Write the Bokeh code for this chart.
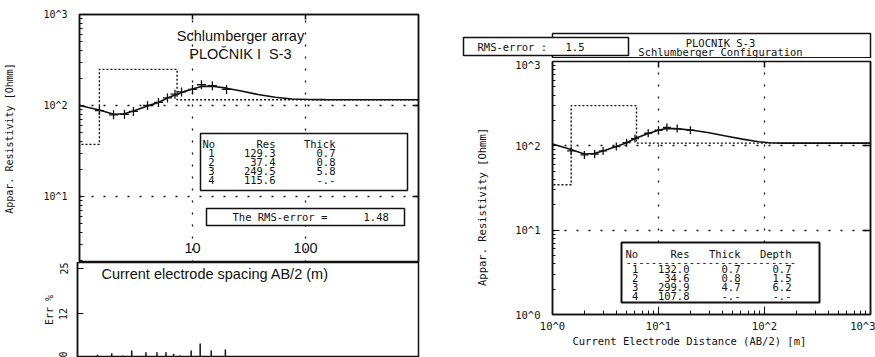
import math
from bokeh.plotting import figure
from bokeh.layouts import row, column
from bokeh.models import (Range1d, LogAxis, FixedTicker, CustomJSTickFormatter,
                          Label, BoxAnnotation)
from bokeh.embed import file_html
from bokeh.resources import INLINE

# ---------------- sounding data ----------------
# Interpretation A (left chart): measured points, model curve, layer table
obs_ab2_a = [1.5, 2, 2.5, 3, 4, 5, 6, 7, 8, 10, 12, 15, 20]
obs_rho_a = [88, 79, 80, 86, 100, 108, 121, 133, 141, 150, 169, 165, 150]
fit_ab2_a = [1, 1.5, 2, 2.5, 3, 4, 5, 6, 7, 8.4, 10, 12, 15, 20, 27, 38, 54, 76, 107, 150, 220, 1000]
fit_rho_a = [100, 89, 80, 81, 87, 99, 108, 121, 130, 142, 152, 162, 163, 155, 144, 132,
             123, 118, 116.5, 116, 115.6, 115.6]
layer_res_a = [129.3, 37.4, 249.5, 115.6]
layer_thick_a = [0.7, 0.8, 5.8]
rms_a = "1.48"
err_pct_a = [0.4, 0.8, 0.2, 1.6, 1.1, 1.1, 1.1, 0.7, 0.2, 1.6, 3.6, 1.6, 1.9]

# Interpretation B (right chart)
obs_ab2_b = [1.5, 2, 2.5, 3, 4, 5, 6, 8, 10, 12, 15, 20]
obs_rho_b = [87, 78, 80, 87, 98, 109, 122, 141, 153, 165, 160, 153]
fit_ab2_b = [1, 1.47, 2, 2.45, 3, 4, 5, 6, 8, 10, 12, 15.5, 21, 30, 43, 62, 88, 110, 150, 1000]
fit_rho_b = [105, 91, 80, 81, 87, 98, 109, 122, 140, 153, 161, 159, 153, 143, 131, 120,
             112, 109, 107.8, 107.8]
layer_res_b = [132.0, 34.6, 299.9, 107.8]
layer_thick_b = [0.7, 0.8, 4.7]
rms_b = "1.5"

x_ticks_a = [10, 100]
x_tick_text_a = ["10", "100"]
err_ticks = [0, 12, 25]

MONO = "DejaVu Sans Mono"
SANS = "Liberation Sans"
INK = "#111111"
NBSP = "\u00a0"


def pow_fmt():
    return CustomJSTickFormatter(code="return '10^' + Math.round(Math.log10(tick));")


def minors(decades):
    return [m * 10 ** k for k in decades for m in range(2, 10)]


def depths(thick):
    out, acc = [], 0.0
    for t in thick:
        acc = round(acc + t, 1)
        out.append(acc)
    return out


def step_xy(res, thick, x_lo, x_hi):
    xs, ys = [x_lo], [res[0]]
    for d, r0, r1 in zip(depths(thick), res[:-1], res[1:]):
        xs += [d, d]
        ys += [r0, r1]
    xs.append(x_hi)
    ys.append(res[-1])
    return xs, ys


def mapper(left, top, w, h, xr, yr, ylog=True):
    """page pixel -> data coordinate for a frame with log x (and log or linear y)."""
    lx0, lx1 = math.log10(xr[0]), math.log10(xr[1])

    def fx(px):
        return 10 ** (lx0 + (px - left) / w * (lx1 - lx0))

    if ylog:
        ly0, ly1 = math.log10(yr[0]), math.log10(yr[1])

        def fy(py):
            return 10 ** (ly1 - (py - top) / h * (ly1 - ly0))
    else:
        def fy(py):
            return yr[1] - (py - top) / h * (yr[1] - yr[0])
    return fx, fy


def deco_axis(ticks, tick_len):
    # frame-edge axis carrying only inward major ticks, no labels
    return LogAxis(ticker=FixedTicker(ticks=ticks),
                   formatter=CustomJSTickFormatter(code="return '';"),
                   major_tick_in=tick_len, major_tick_out=0,
                   minor_tick_in=0, minor_tick_out=0,
                   major_label_text_font_size="4px", major_label_text_color=None,
                   major_label_standoff=0, axis_line_color=INK, axis_line_width=1.5,
                   major_tick_line_color=INK, major_tick_line_width=1.5)


def style_axis(ax, font_size, standoff, label, label_standoff):
    ax.major_label_text_font = MONO
    ax.major_label_text_font_size = font_size
    ax.major_label_text_color = INK
    ax.major_label_standoff = standoff
    ax.major_tick_out = 0
    ax.minor_tick_out = 0
    ax.axis_line_color = INK
    ax.axis_line_width = 1.5
    ax.major_tick_line_color = INK
    ax.minor_tick_line_color = INK
    ax.axis_label = label
    ax.axis_label_text_font = MONO
    ax.axis_label_text_font_size = font_size
    ax.axis_label_text_font_style = "normal"
    ax.axis_label_text_color = INK
    ax.axis_label_standoff = label_standoff


def text(p, x, y, s, size, font=MONO, align="left"):
    p.add_layout(Label(x=x, y=y, text=s, text_font=font, text_font_size=size,
                       text_color=INK, text_align=align, text_baseline="middle"))


def box(p, l, r, t, b, lw=1.5):
    p.add_layout(BoxAnnotation(left=l, right=r, top=t, bottom=b, fill_color="white",
                               fill_alpha=1.0, line_color=INK, line_width=lw, line_alpha=1.0))


COMMON = dict(output_backend="svg", toolbar_location=None, frame_align=False,
              background_fill_color="white", border_fill_color="white")

# ================= left chart: resistivity panel =================
LT_X = (1, 1000)
LT_Y = (1.88, 1000)
lt = figure(width=440, height=262, x_axis_type="log", y_axis_type="log",
            x_range=Range1d(*LT_X), y_range=Range1d(*LT_Y), x_axis_location=None,
            min_border_left=79, min_border_right=22, min_border_top=14, min_border_bottom=0,
            **COMMON)
lt.outline_line_color = INK
lt.outline_line_width = 1.5
fx, fy = mapper(79, 14, 339, 248, LT_X, LT_Y)

ya = lt.yaxis[0]
ya.ticker = FixedTicker(ticks=[10, 100, 1000], minor_ticks=minors([0, 1, 2]))
ya.formatter = pow_fmt()
style_axis(ya, "10px", 12, "Appar. Resistivity [Ohmm]", 25)
ya.major_tick_in = 5
ya.minor_tick_in = 3
lt.add_layout(deco_axis([10, 100], 5), "above")
lt.add_layout(deco_axis([10, 100], 6), "right")

lt.xgrid.ticker = FixedTicker(ticks=x_ticks_a)
lt.ygrid.ticker = FixedTicker(ticks=[10, 100])
for g in (lt.xgrid, lt.ygrid):
    g.grid_line_color = INK
    g.grid_line_dash = "2 10"
    g.grid_line_width = 1.3

sx, sy = step_xy(layer_res_a, layer_thick_a, 0.1, LT_X[1])
lt.line(sx, sy, line_color=INK, line_width=1.4, line_dash="2 2")
lt.line(fit_ab2_a, fit_rho_a, line_color=INK, line_width=1.6)
lt.scatter(obs_ab2_a, obs_rho_a, marker="cross", size=9, line_color=INK, line_width=1.3)

text(lt, fx(240), fy(35), "Schlumberger array", "14.5px", SANS, "center")
text(lt, fx(240), fy(53), "PLOČNIK I" + NBSP + " S-3", "14.5px", SANS, "center")
for xv, s in zip(x_ticks_a, x_tick_text_a):
    text(lt, xv, fy(247), s, "14.5px", SANS, "center")

# layer table
box(lt, fx(200), fx(407), fy(133), fy(190))
text(lt, fx(202), fy(143), "No", "10.5px")
text(lt, fx(275), fy(143), "Res", "10.5px", align="right")
text(lt, fx(335), fy(143), "Thick", "10.5px", align="right")
thick_txt_a = [f"{t:.1f}" for t in layer_thick_a] + ["-.-"]
for i, (r, t) in enumerate(zip(layer_res_a, thick_txt_a)):
    yy = fy(152 + 9.3 * i)
    text(lt, fx(211), yy, str(i + 1), "10.5px", align="center")
    text(lt, fx(275), yy, f"{r:.1f}", "10.5px", align="right")
    text(lt, fx(335), yy, t, "10.5px", align="right")

box(lt, fx(206), fx(404), fy(208), fy(225))
text(lt, fx(232), fy(216.5), "The RMS-error =", "10.5px")
text(lt, fx(363), fy(216.5), rms_a, "10.5px")

# ================= left chart: error panel =================
LB_Y = (-0.4, 26.6)
lb = figure(width=440, height=95, x_axis_type="log", x_range=Range1d(*LT_X),
            y_range=Range1d(*LB_Y), x_axis_location=None,
            min_border_left=77, min_border_right=22, min_border_top=0, min_border_bottom=0,
            **COMMON)
lb.outline_line_color = INK
lb.outline_line_width = 1.5
lb.xgrid.visible = False
lb.ygrid.visible = False
gx, gy = mapper(77, 262, 341, 95, LT_X, LB_Y, ylog=False)
ea = lb.yaxis[0]
ea.ticker = FixedTicker(ticks=err_ticks)
style_axis(ea, "10px", 10, "Err %", 2)
ea.major_label_orientation = "vertical"
ea.major_tick_in = 6
ea.minor_tick_in = 0

lb.segment(x0=obs_ab2_a, y0=[0] * len(obs_ab2_a), x1=obs_ab2_a, y1=err_pct_a,
           line_color=INK, line_width=1.5)
text(lb, gx(101), gy(273), "Current electrode spacing AB/2 (m)", "14.5px", SANS)

# ================= right chart: heading strip =================
STRIP_H = 58
hd = figure(width=435, height=STRIP_H, x_range=Range1d(440, 875), y_range=Range1d(STRIP_H, 0),
            x_axis_location=None, y_axis_location=None, min_border=0, **COMMON)
hd.outline_line_color = None
hd.xgrid.visible = False
hd.ygrid.visible = False
box(hd, 552, 870, 33, STRIP_H - 0.8)
text(hd, 720, 42.5, "PLOCNIK S-3", "10.5px", align="center")
text(hd, 720, 51, "Schlumberger Configuration", "10.5px", align="center")
box(hd, 463, 628, 37, 55)
text(hd, 477, 46, "RMS-error :", "10.5px")
text(hd, 565, 46, rms_b, "10.5px")

# ================= right chart: resistivity panel =================
R_X = (1, 1000)
R_Y = (1, 1000)
rf = figure(width=435, height=357 - STRIP_H, x_axis_type="log", y_axis_type="log",
            x_range=Range1d(*R_X), y_range=Range1d(*R_Y),
            min_border_left=112, min_border_right=5, min_border_top=61 - STRIP_H,
            min_border_bottom=43, **COMMON)
rf.outline_line_color = INK
rf.outline_line_width = 1.5
hx, hy = mapper(552, 61, 318, 253, R_X, R_Y)

ry = rf.yaxis[0]
ry.ticker = FixedTicker(ticks=[1, 10, 100, 1000], minor_ticks=minors([0, 1, 2]))
ry.formatter = pow_fmt()
style_axis(ry, "10.5px", 12, "Appar. Resistivity [Ohmm]" + NBSP * 6, 24)
ry.major_tick_in = 7
ry.minor_tick_in = 3

rx = rf.xaxis[0]
rx.ticker = FixedTicker(ticks=[1, 10, 100, 1000], minor_ticks=minors([0, 1, 2]))
rx.formatter = pow_fmt()
style_axis(rx, "10.5px", 5, "Current Electrode Distance (AB/2) [m]" + NBSP * 7, 0)
rx.major_tick_in = 8
rx.minor_tick_in = 4
rf.add_layout(deco_axis([10, 100], 8), "right")

# inward major ticks along the top edge
top_ticks = [10, 100]
rf.segment(x0=top_ticks, y0=[R_Y[1]] * 2, x1=top_ticks, y1=[hy(67)] * 2,
           line_color=INK, line_width=1.5)

rf.xgrid.ticker = FixedTicker(ticks=[10, 100])
rf.ygrid.ticker = FixedTicker(ticks=[10, 100])
for g in (rf.xgrid, rf.ygrid):
    g.grid_line_color = INK
    g.grid_line_dash = "2 10"
    g.grid_line_width = 1.3

sx, sy = step_xy(layer_res_b, layer_thick_b, 0.1, R_X[1])
rf.line(sx, sy, line_color=INK, line_width=1.4, line_dash="2 2")
rf.line(fit_ab2_b, fit_rho_b, line_color=INK, line_width=1.6)
rf.scatter(obs_ab2_b, obs_rho_b, marker="cross", size=8, line_color=INK, line_width=1.3)

# layer table with depths
box(rf, hx(621), hx(819), hy(242), hy(302), lw=2)
text(rf, hx(625), hy(253), "No", "10.5px")
text(rf, hx(689), hy(253), "Res", "10.5px", align="right")
text(rf, hx(740), hy(253), "Thick", "10.5px", align="right")
text(rf, hx(791), hy(253), "Depth", "10.5px", align="right")
text(rf, hx(625), hy(261), "-" * 27, "10.5px")
thick_txt_b = [f"{t:.1f}" for t in layer_thick_b] + ["-.-"]
depth_txt_b = [f"{d:.1f}" for d in depths(layer_thick_b)] + ["-.-"]
for i, (r, t, d) in enumerate(zip(layer_res_b, thick_txt_b, depth_txt_b)):
    yy = hy(268.5 + 9 * i)
    text(rf, hx(634.6), yy, str(i + 1), "10.5px", align="center")
    text(rf, hx(689), yy, f"{r:.1f}", "10.5px", align="right")
    text(rf, hx(740), yy, t, "10.5px", align="right")
    text(rf, hx(791), yy, d, "10.5px", align="right")

layout = row(column(lt, lb), column(hd, rf))
open("out.html", "w").write(file_html(layout, INLINE))
